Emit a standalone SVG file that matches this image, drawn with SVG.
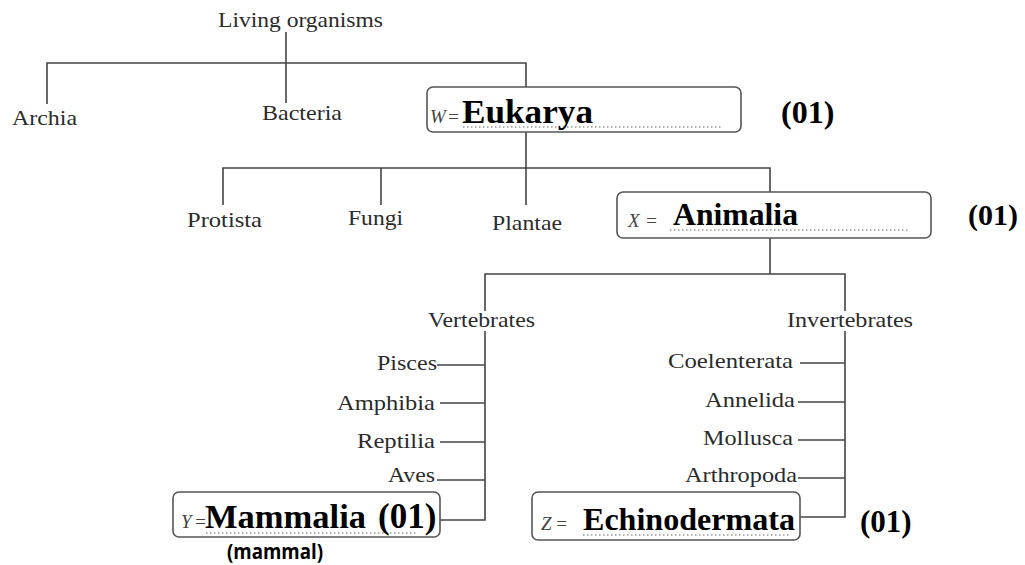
<svg xmlns="http://www.w3.org/2000/svg" width="1025" height="565" viewBox="0 0 1025 565">
<style>
.lbl{font-family:"Liberation Serif","Times New Roman",serif;font-size:22px;fill:#2b2b2b}
.end{text-anchor:end}
.ans{font-family:"Liberation Serif","Times New Roman",serif;font-weight:bold;fill:#000}
.var{font-family:"Liberation Serif","Times New Roman",serif;font-size:19px;font-style:italic;fill:#444}
.box{fill:none;stroke:#555;stroke-width:1.6}
.dot{fill:none;stroke:#999;stroke-width:1.6;stroke-dasharray:1.5 2.5}
.ln{fill:none;stroke:#444;stroke-width:1.6}
.note{font-family:"Open Sans","Liberation Sans",sans-serif;font-size:22px;font-weight:bold;fill:#000}
</style>
<rect width="1025" height="565" fill="#fff"/>
<g id="connectors">
<path class="ln" d="M286 32V103"/>
<path class="ln" d="M47 104V63H526V87"/>
<path class="ln" d="M526 132V205"/>
<path class="ln" d="M223 205V168H770V192"/>
<path class="ln" d="M381 168V205"/>
<path class="ln" d="M770 238V274"/>
<path class="ln" d="M485 311V274H845V311"/>
<path class="ln" d="M485 331V520H440"/>
<path class="ln" d="M845 331V517H800"/>
<path class="ln" d="M437 365H485M440 403H485M440 442H485M437 480H485"/>
<path class="ln" d="M800 363H845M798 402H845M798 440H845M798 478H845"/>
</g>
<g id="root"><text class="lbl" x="218" y="27" textLength="165" lengthAdjust="spacingAndGlyphs">Living organisms</text></g>
<g id="archia"><text class="lbl" x="12" y="125" textLength="65" lengthAdjust="spacingAndGlyphs">Archia</text></g>
<g id="bacteria"><text class="lbl" x="262" y="120" textLength="80" lengthAdjust="spacingAndGlyphs">Bacteria</text></g>
<g id="w">
<rect class="box" x="427" y="87" width="314" height="45" rx="6"/>
<path class="dot" d="M463 127H723"/>
<text class="var" y="123"><tspan x="430">W</tspan><tspan x="447">=</tspan></text>
<text class="ans" x="462" y="123" font-size="33" textLength="131" lengthAdjust="spacingAndGlyphs">Eukarya</text>
<text class="ans" x="781" y="123" font-size="32">(01)</text>
</g>
<g id="protista"><text class="lbl" x="187" y="227" textLength="75" lengthAdjust="spacingAndGlyphs">Protista</text></g>
<g id="fungi"><text class="lbl" x="348" y="225" textLength="55" lengthAdjust="spacingAndGlyphs">Fungi</text></g>
<g id="plantae"><text class="lbl" x="492" y="230" textLength="70" lengthAdjust="spacingAndGlyphs">Plantae</text></g>
<g id="x">
<rect class="box" x="617" y="192" width="314" height="46" rx="6"/>
<path class="dot" d="M670 230H908"/>
<text class="var" y="227"><tspan x="628">X</tspan><tspan x="645">=</tspan></text>
<text class="ans" x="673" y="225" font-size="31" textLength="125" lengthAdjust="spacingAndGlyphs">Animalia</text>
<text class="ans" x="968" y="225" font-size="30">(01)</text>
</g>
<g id="vertebrates"><text class="lbl" x="428" y="327" textLength="107" lengthAdjust="spacingAndGlyphs">Vertebrates</text></g>
<g id="invertebrates"><text class="lbl" x="787" y="327" textLength="126" lengthAdjust="spacingAndGlyphs">Invertebrates</text></g>
<g id="pisces"><text class="lbl end" x="437" y="370" textLength="60" lengthAdjust="spacingAndGlyphs">Pisces</text></g>
<g id="amphibia"><text class="lbl end" x="435" y="410" textLength="98" lengthAdjust="spacingAndGlyphs">Amphibia</text></g>
<g id="reptilia"><text class="lbl end" x="435" y="448" textLength="78" lengthAdjust="spacingAndGlyphs">Reptilia</text></g>
<g id="aves"><text class="lbl end" x="435" y="482" textLength="47" lengthAdjust="spacingAndGlyphs">Aves</text></g>
<g id="coelenterata"><text class="lbl end" x="793" y="368" textLength="125" lengthAdjust="spacingAndGlyphs">Coelenterata</text></g>
<g id="annelida"><text class="lbl end" x="795" y="407" textLength="90" lengthAdjust="spacingAndGlyphs">Annelida</text></g>
<g id="mollusca"><text class="lbl end" x="793" y="445" textLength="90" lengthAdjust="spacingAndGlyphs">Mollusca</text></g>
<g id="arthropoda"><text class="lbl end" x="797" y="482" textLength="112" lengthAdjust="spacingAndGlyphs">Arthropoda</text></g>
<g id="y">
<rect class="box" x="173" y="492" width="267" height="45" rx="6"/>
<path class="dot" d="M206 533H417"/>
<text class="var" y="528"><tspan x="181">Y</tspan><tspan x="194">=</tspan></text>
<text class="ans" x="205" y="528" font-size="34" textLength="161" lengthAdjust="spacingAndGlyphs">Mammalia</text>
<text class="ans" x="378" y="528" font-size="35">(01)</text>
<text class="note" x="227" y="559" textLength="96" lengthAdjust="spacingAndGlyphs">(mammal)</text>
</g>
<g id="z">
<rect class="box" x="532" y="492" width="268" height="48" rx="6"/>
<path class="dot" d="M583 535H790"/>
<text class="var" y="530"><tspan x="541">Z</tspan><tspan x="555">=</tspan></text>
<text class="ans" x="583" y="530" font-size="32" textLength="212" lengthAdjust="spacingAndGlyphs">Echinodermata</text>
<text class="ans" x="860" y="532" font-size="31">(01)</text>
</g>
</svg>
